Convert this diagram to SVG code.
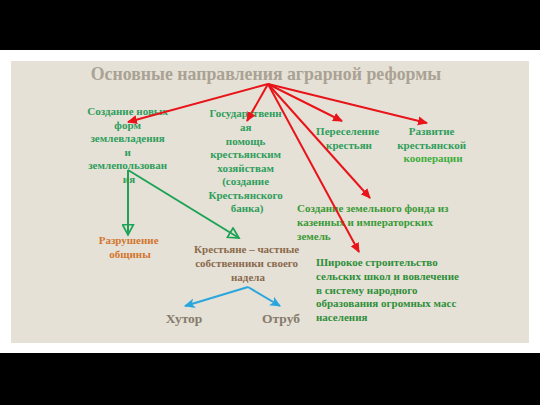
<svg xmlns="http://www.w3.org/2000/svg" width="540" height="405" viewBox="0 0 540 405">
<defs>
<style>
text{font-family:"Liberation Serif","DejaVu Serif",serif;font-weight:bold;}
.t{fill:#aaa294;font-size:17.8px;}
.g{fill:#2e9e5c;font-size:11px;text-anchor:middle;}
.g2{fill:#3a9a36;font-size:11px;}
.o{fill:#d2762e;font-size:11px;text-anchor:middle;}
.b{fill:#8a6a4c;font-size:11px;text-anchor:middle;}
.h{fill:#867b6c;font-size:13.5px;text-anchor:middle;}
.red{stroke:#e8141a;stroke-width:2;fill:none;marker-end:url(#ar);}
.grn{stroke:#1ea356;stroke-width:2;fill:none;marker-end:url(#ag);}
.blu{stroke:#2aa6de;stroke-width:2;fill:none;marker-end:url(#ab);}
</style>
<marker id="ar" viewBox="0 0 10 10" refX="9" refY="5" markerWidth="5" markerHeight="5" orient="auto" markerUnits="strokeWidth"><path d="M0,0.5 L10,5 L0,9.5 Z" fill="#e8141a"/></marker>
<marker id="ag" viewBox="0 0 12 12" refX="10.5" refY="6" markerWidth="6.5" markerHeight="6.5" orient="auto" markerUnits="strokeWidth"><path d="M1,1 L10.5,6 L1,11 Z" fill="none" stroke="#1ea356" stroke-width="1.6"/></marker>
<marker id="ab" viewBox="0 0 10 10" refX="9" refY="5" markerWidth="5.5" markerHeight="5.5" orient="auto" markerUnits="strokeWidth"><path d="M0,0.5 L10,5 L0,9.5 L2.5,5 Z" fill="#2aa6de"/></marker>
</defs>
<rect x="0" y="0" width="540" height="405" fill="#ffffff"/>
<rect x="0" y="0" width="540" height="50" fill="#000000"/>
<rect x="0" y="353" width="540" height="52" fill="#000000"/>
<rect x="11" y="61" width="518" height="282" fill="#e5e1d6"/>

<g id="title"><text class="t" x="266" y="80" text-anchor="middle">Основные направления аграрной реформы</text></g>

<g id="n-forms"><text class="g">
<tspan x="129" y="115">Создание новых</tspan>
<tspan x="129" y="128.5">форм</tspan>
<tspan x="129" y="142">землевладения</tspan>
<tspan x="129" y="155.5">и</tspan>
<tspan x="129" y="169">землепользован</tspan>
<tspan x="129" y="182.5">ия</tspan></text></g>

<g id="n-help"><text class="g">
<tspan x="247" y="117">Государственн</tspan>
<tspan x="247" y="131">ая</tspan>
<tspan x="247" y="144.5">помощь</tspan>
<tspan x="247" y="158">крестьянским</tspan>
<tspan x="247" y="171.5">хозяйствам</tspan>
<tspan x="247" y="185">(создание</tspan>
<tspan x="247" y="198.5">Крестьянского</tspan>
<tspan x="247" y="212">банка)</tspan></text></g>

<g id="n-resettle"><text class="g">
<tspan x="349" y="135">Переселение</tspan>
<tspan x="349" y="148.5">крестьян</tspan></text></g>

<g id="n-coop"><text class="g">
<tspan x="433" y="135">Развитие</tspan>
<tspan x="433" y="148.5">крестьянской</tspan>
<tspan x="433" y="162" fill="#3cae3c">кооперации</tspan></text></g>

<g id="n-fund"><text class="g2">
<tspan x="297" y="212">Создание земельного фонда из</tspan>
<tspan x="297" y="226">казенных и императорских</tspan>
<tspan x="297" y="240">земель</tspan></text></g>

<g id="n-schools"><text class="g2" style="fill:#2f8f3a">
<tspan x="316" y="266">Широкое строительство</tspan>
<tspan x="316" y="280">сельских школ и вовлечение</tspan>
<tspan x="316" y="293.5">в систему народного</tspan>
<tspan x="316" y="307">образования огромных масс</tspan>
<tspan x="316" y="320.5">населения</tspan></text></g>

<g id="n-commune"><text class="o">
<tspan x="130" y="244">Разрушение</tspan>
<tspan x="130" y="257.5">общины</tspan></text></g>

<g id="n-owners"><text class="b">
<tspan x="248" y="253">Крестьяне – частные</tspan>
<tspan x="248" y="267">собственники своего</tspan>
<tspan x="248" y="281">надела</tspan></text></g>

<g id="n-khutor"><text class="h" x="184" y="323">Хутор</text></g>
<g id="n-otrub"><text class="h" x="281" y="323">Отруб</text></g>

<g id="connectors">
<line class="red" x1="268" y1="84" x2="128" y2="122"/>
<line class="red" x1="268" y1="84" x2="247" y2="121"/>
<line class="red" x1="268" y1="84" x2="342" y2="121"/>
<line class="red" x1="268" y1="84" x2="427" y2="123"/>
<line class="red" x1="268" y1="84" x2="370" y2="198"/>
<line class="red" x1="268" y1="84" x2="359" y2="252"/>
<line class="grn" x1="128" y1="170" x2="128" y2="235"/>
<line class="grn" x1="128" y1="170" x2="239" y2="238"/>
<line class="blu" x1="248" y1="287" x2="185" y2="306"/>
<line class="blu" x1="248" y1="287" x2="280" y2="306"/>
</g>
</svg>
